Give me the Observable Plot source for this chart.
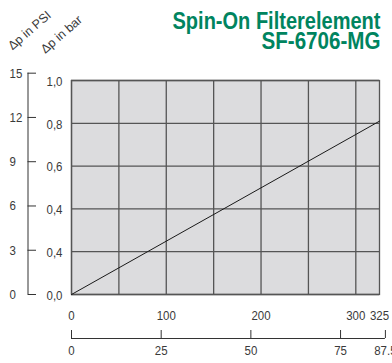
<!DOCTYPE html>
<html><head><meta charset="utf-8">
<script src="https://cdn.jsdelivr.net/npm/d3@7"></script>
<script src="https://cdn.jsdelivr.net/npm/@observablehq/plot@0.6"></script>
<style>body{margin:0;background:#fff}</style>
</head><body><div id="chart"></div>
<script>
// data
const flowLmin = [0, 325];
const dpBar = [0, 0.81];
const xTicks = [0, 100, 200, 300, 325];
const xGrid = [0, 50, 100, 150, 200, 250, 300];
const barTicks = [1, 0.8, 0.6, 0.4, 0.2, 0];
const barLabels = ["1,0", "0,8", "0,6", "0,4", "0,4", "0,0"];
const psiTicks = [15, 12, 9, 6, 3, 0];
const gpmTicks = [0, 25, 50, 75, 87.5];
const gpmLabels = ["0", "25", "50", "75", "87.5"];
const PSI_PER_BAR = 14.5038;
const LMIN_PER_GPM = 3.78541;
const title1 = "Spin-On Filterelement";
const title2 = "SF-6706-MG";
const labelPsi = "Δp in PSI";
const labelBar = "Δp in bar";

const rows = flowLmin.map((f, i) => ({flow: f, dp: dpBar[i]}));
const psiPos = psiTicks.map(p => p / PSI_PER_BAR);
const gpmPos = gpmTicks.map(g => g * LMIN_PER_GPM);

const green = "#00845f";
const grid = "#555";
const txt = "#3a3a3a";
const font = "Liberation Sans, Arial, sans-serif";
const fs = 13.5;

const chart = Plot.plot({
  width: 392, height: 363,
  marginLeft: 71, marginRight: 13, marginTop: 80, marginBottom: 69,
  style: {fontFamily: font, fontSize: "13px", color: txt, background: "#fff"},
  x: {domain: [0, 325]},
  y: {domain: [0, 1]},
  marks: [
    Plot.frame({fill: "#dcdcde", stroke: null}),
    Plot.gridX(xGrid, {stroke: grid, strokeOpacity: 1, strokeWidth: 1.3}),
    Plot.gridY(barTicks, {stroke: grid, strokeOpacity: 1, strokeWidth: 1.3}),
    Plot.frame({stroke: grid, strokeWidth: 1.3}),
    Plot.line(rows, {x: "flow", y: "dp", stroke: "#1a1a1a", strokeWidth: 1}),
    // bar axis labels
    Plot.axisY(barTicks, {anchor: "left", tickSize: 0, tickPadding: 3, dx: -6, dy: 1,
      tickFormat: d => barLabels[barTicks.indexOf(d)], fill: txt, fontSize: fs, label: null, className: "lbl"}),
    // PSI axis
    Plot.ruleX([0], {y1: 0, y2: psiPos[0], dx: -43.5, stroke: "#333", strokeWidth: 1}),
    Plot.axisY(psiPos, {anchor: "left", tickSize: 8.5, dx: -35, stroke: "#333",
      tickFormat: () => "", label: null}),
    Plot.axisY(psiPos, {anchor: "left", tickSize: 0, tickPadding: 3, dx: -59, textAnchor: "start",
      tickFormat: d => String(psiTicks[psiPos.indexOf(d)]), fill: txt, fontSize: fs, label: null, className: "lbl"}),
    // l/min labels
    Plot.axisX(xTicks, {anchor: "bottom", tickSize: 0, tickPadding: 16,
      tickFormat: d => String(d), fill: txt, fontSize: fs, label: null, className: "lbl"}),
    // gpm axis
    Plot.ruleY([0], {x1: 0, x2: gpmPos[gpmPos.length - 1], dy: 44, stroke: "#333", strokeWidth: 1}),
    Plot.axisX(gpmPos, {anchor: "bottom", tickSize: 8, dy: 36, stroke: "#333",
      tickFormat: () => "", label: null}),
    Plot.axisX(gpmPos, {anchor: "bottom", tickSize: 0, tickPadding: 3, dy: 48,
      tickFormat: d => gpmLabels[gpmPos.indexOf(d)], fill: txt, fontSize: fs, label: null, className: "lbl"}),
    // title
    Plot.text([title1], {frameAnchor: "top-right", text: d => d, dx: 1, dy: -51.7, lineAnchor: "bottom",
      textAnchor: "end", fill: green, fontSize: 24, fontWeight: "bold", fontFamily: font, className: "ttl1"}),
    Plot.text([title2], {frameAnchor: "top-right", text: d => d, dx: 1, dy: -31.7, lineAnchor: "bottom",
      textAnchor: "end", fill: green, fontSize: 24, fontWeight: "bold", fontFamily: font, className: "ttl2"}),
    // rotated unit labels
    Plot.text([labelPsi], {frameAnchor: "top-left", text: d => d, dx: -42, dy: -50, rotate: -41,
      textAnchor: "middle", lineAnchor: "middle", fill: txt, fontSize: 12.5}),
    Plot.text([labelBar], {frameAnchor: "top-left", text: d => d, dx: -10, dy: -46, rotate: -41,
      textAnchor: "middle", lineAnchor: "middle", fill: txt, fontSize: 12.5})
  ]
});
// condensed look (no condensed face installed)
const svg = d3.select(chart);
svg.selectAll(".ttl1 text").attr("textLength", 208).attr("lengthAdjust", "spacingAndGlyphs");
svg.selectAll(".ttl2 text").attr("textLength", 119).attr("lengthAdjust", "spacingAndGlyphs");
svg.selectAll(".lbl text").attr("transform", function() {
  return (this.getAttribute("transform") || "") + " scale(0.85,1)";
});
document.getElementById("chart").appendChild(chart);
</script>
</body></html>
